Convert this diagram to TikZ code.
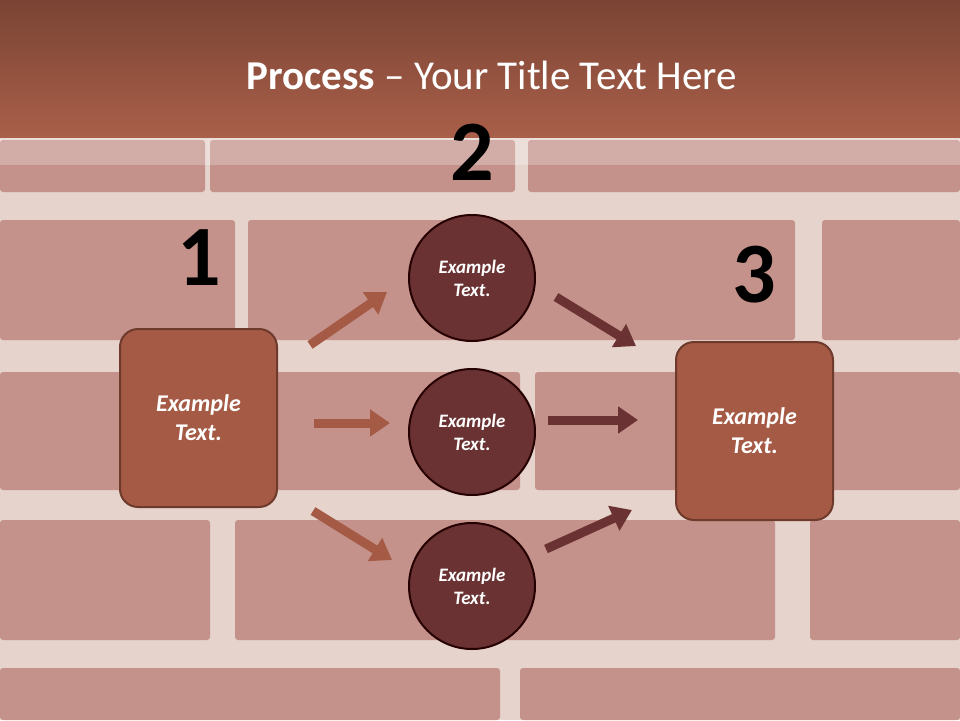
\documentclass[tikz,border=0pt]{standalone}
\usepackage{fontspec}
\setmainfont{Carlito}
\usetikzlibrary{arrows.meta}
\definecolor{brick}{HTML}{C4928A}
\definecolor{mortar}{HTML}{E6D3CC}
\definecolor{boxc}{HTML}{A45A45}
\definecolor{boxb}{HTML}{6E3A2C}
\definecolor{circc}{HTML}{6A3232}
\definecolor{hdrtop}{HTML}{7A4434}
\definecolor{hdrbot}{HTML}{A95F49}
\tikzset{
 stepbox/.style={draw=boxb,line width=2pt,fill=boxc,rounded corners=18pt,minimum width=157pt,minimum height=178pt,text=white,font=\bfseries\itshape\fontsize{24}{29}\selectfont,align=center},
 circ/.style={circle,draw=black!85!red,line width=2pt,fill=circc,minimum size=126pt,text=white,font=\bfseries\itshape\fontsize{19}{23}\selectfont,align=center},
 num/.style={font=\bfseries\fontsize{86}{86}\selectfont,text=black},
 la/.style={line width=9pt,color=boxc,-{Triangle[length=20pt,width=26pt]}},
 ra/.style={line width=9pt,color=circc,-{Triangle[length=20pt,width=26pt]}},
 bk/.style={fill=brick}
}
\begin{document}
\begin{tikzpicture}[x=1pt,y=-1pt]
\useasboundingbox (0,0) rectangle (960,720);
\fill[mortar] (0,0) rectangle (960,720);
\foreach \a/\b/\c/\d in {0/140/205/192, 210/140/515/192, 528/140/960/192,
 0/220/235/340, 248/220/795/340, 822/220/960/340,
 0/372/215/490, 230/372/520/490, 535/372/790/490, 808/372/960/490,
 0/520/210/640, 235/520/775/640, 810/520/960/640,
 0/668/500/720, 520/668/960/720}
 \fill[bk,rounded corners=3pt] (\a,\b) rectangle (\c,\d);
\fill[white,opacity=0.25] (0,137) rectangle (960,165);
\shade[top color=hdrtop,bottom color=hdrbot] (0,0) rectangle (960,137);
\node[text=white,font=\fontsize{41}{44}\selectfont] (title) at (492,75) {\textbf{Process} -- Your Title Text Here};
\node[stepbox] (b1) at (198.5,418) {Example\\Text.};
\node[stepbox] (b3) at (754.5,431) {Example\\Text.};
\node[circ] (c1) at (472,278) {Example\\Text.};
\node[circ] (c2) at (472,432) {Example\\Text.};
\node[circ] (c3) at (472,586) {Example\\Text.};
\node[num] (n1) at (199,258) {1};
\node[num] (n2) at (472,152) {2};
\node[num] (n3) at (754,275) {3};
\coordinate (a1s) at (310,345); \coordinate (a1e) at (387,292);
\coordinate (a2s) at (314,423); \coordinate (a2e) at (390,423);
\coordinate (a3s) at (313,511); \coordinate (a3e) at (392,560);
\coordinate (r1s) at (556,297); \coordinate (r1e) at (636,346);
\coordinate (r2s) at (548,420); \coordinate (r2e) at (638,420);
\coordinate (r3s) at (546,549); \coordinate (r3e) at (632,510);
\draw[la] (a1s) -- (a1e);
\draw[la] (a2s) -- (a2e);
\draw[la] (a3s) -- (a3e);
\draw[ra] (r1s) -- (r1e);
\draw[ra] (r2s) -- (r2e);
\draw[ra] (r3s) -- (r3e);
\end{tikzpicture}
\end{document}
